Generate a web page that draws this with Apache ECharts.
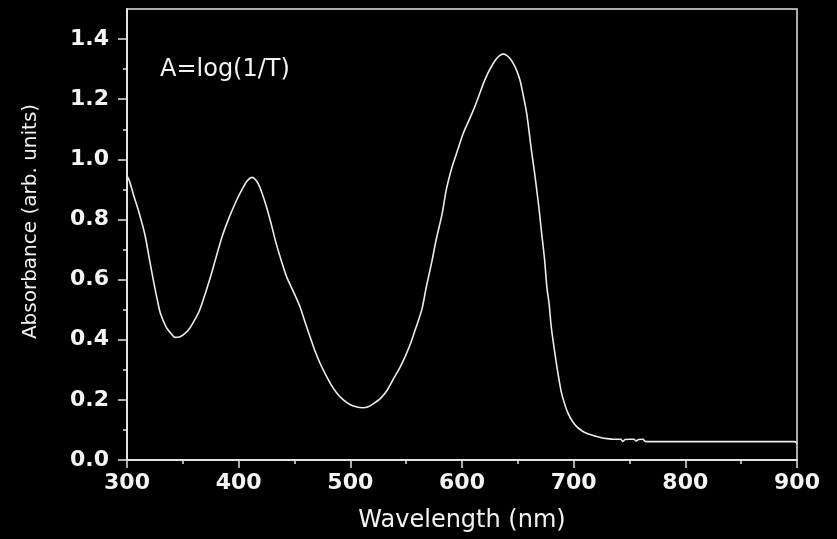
<!DOCTYPE html>
<html>
<head>
<meta charset="utf-8">
<script src="https://cdn.jsdelivr.net/npm/echarts@6/dist/echarts.min.js"></script>
<style>
html,body{margin:0;padding:0;background:#000;}
#c{width:837px;height:539px;}
</style>
</head>
<body>
<div id="c"></div>
<script>
// Data
const wavelengths = [300,302,306,311,316,320,324,327,330,335,340,343,347,350,355,359,365,371,375,379,385,391,398,404,408,412,416,419,425,429,433,438,443,449,455,460,464,468,473,478,483,488,494,500,506,511,516,521,527,533,538,544,549,554,558,564,568,573,577,582,586,590,592,596,601,606,610,615,619,623,627,631,634,637,640,643,646,649,652,655,658,662,665,667,669,671,674,676,678,680,683,685,687,689,692,695,699,703,707,712,718,724,730,736,742,744,746,750,754,756,758,762,764,770,800,850,898,900];
const absorbance = [0.945,0.93,0.88,0.82,0.75,0.67,0.59,0.535,0.487,0.443,0.418,0.408,0.409,0.415,0.432,0.455,0.498,0.564,0.612,0.664,0.741,0.802,0.863,0.907,0.93,0.94,0.928,0.907,0.841,0.787,0.728,0.665,0.609,0.56,0.509,0.452,0.409,0.366,0.321,0.283,0.249,0.222,0.199,0.184,0.176,0.174,0.177,0.188,0.205,0.232,0.266,0.305,0.343,0.388,0.432,0.50,0.575,0.66,0.735,0.815,0.9,0.96,0.985,1.03,1.085,1.128,1.162,1.21,1.251,1.285,1.313,1.335,1.346,1.35,1.346,1.335,1.318,1.295,1.262,1.21,1.151,1.035,0.955,0.896,0.835,0.765,0.665,0.575,0.52,0.44,0.36,0.31,0.265,0.225,0.185,0.155,0.128,0.11,0.098,0.088,0.081,0.075,0.071,0.069,0.069,0.062,0.068,0.069,0.069,0.063,0.068,0.069,0.062,0.061,0.061,0.061,0.061,0.055];
const yMajorTicks = [0,0.2,0.4,0.6,0.8,1.0,1.2,1.4];
const yMinorTicks = [0.1,0.3,0.5,0.7,0.9,1.1,1.3];
const xTitle = 'Wavelength (nm)';
const yTitle = 'Absorbance (arb. units)';
const annotation = 'A=log(1/T)';

const points = wavelengths.map((w, i) => [w, absorbance[i]]);
const axisColor = '#e4e4e4';
const textColor = '#f4f4f4';

const chart = echarts.init(document.getElementById('c'));
chart.setOption({
  backgroundColor: '#000',
  animation: false,
  grid: {
    left: 127, right: 40, top: 9, bottom: 79,
    show: true, borderColor: axisColor, borderWidth: 1.5,
    containLabel: false, outerBoundsMode: 'none'
  },
  xAxis: {
    type: 'value', min: 300, max: 900, interval: 100,
    name: xTitle, nameLocation: 'middle', nameGap: 49,
    nameTextStyle: {color: textColor, fontFamily: 'DejaVu Sans', fontSize: 24},
    axisLine: {show: true, lineStyle: {color: axisColor, width: 2}},
    axisTick: {show: true, inside: false, length: 8, lineStyle: {color: axisColor, width: 1.5}},
    minorTick: {show: true, splitNumber: 2, length: 4, lineStyle: {color: axisColor, width: 1.5}},
    axisLabel: {color: textColor, fontFamily: 'DejaVu Sans', fontWeight: 'bold', fontSize: 22, margin: 12},
    splitLine: {show: false}
  },
  yAxis: [{
    type: 'value', min: 0, max: 1.5,
    name: yTitle, nameLocation: 'middle', nameGap: 86,
    nameTextStyle: {color: textColor, fontFamily: 'DejaVu Sans', fontSize: 20, padding: [0,0,0,26]},
    axisLine: {show: true, lineStyle: {color: axisColor, width: 2}},
    axisTick: {show: true, inside: false, length: 9, customValues: yMajorTicks, lineStyle: {color: axisColor, width: 1.5}},
    axisLabel: {color: textColor, fontFamily: 'DejaVu Sans', fontWeight: 'bold', fontSize: 22, margin: 18,
      customValues: yMajorTicks, formatter: v => v.toFixed(1)},
    splitLine: {show: false}
  }, {
    type: 'value', min: 0, max: 1.5, position: 'left', offset: 0,
    axisLine: {show: false},
    axisTick: {show: true, inside: false, length: 4, customValues: yMinorTicks, lineStyle: {color: axisColor, width: 1.5}},
    axisLabel: {show: false},
    splitLine: {show: false}
  }],
  graphic: [{
    type: 'text', left: 160, top: 58,
    style: {text: annotation, fill: textColor, font: '24px "DejaVu Sans"'}
  }],
  series: [{
    type: 'line', data: points, showSymbol: false, smooth: 0.3,
    lineStyle: {color: '#ececec', width: 1.6}
  }]
});
</script>
</body>
</html>
